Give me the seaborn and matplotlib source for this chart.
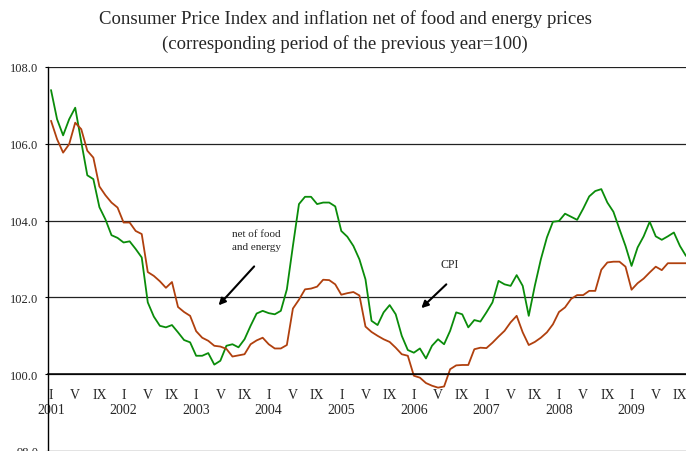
import pandas as pd
import seaborn as sns
import matplotlib.pyplot as plt

# Datos mensuales, enero 2001 - octubre 2009
cpi = [107.40, 106.64, 106.22, 106.64, 106.94, 106.05, 105.18, 105.08, 104.35, 104.03, 103.62, 103.55,
       103.43, 103.46, 103.26, 103.04, 101.87, 101.50, 101.26, 101.22, 101.28, 101.09, 100.89, 100.83,
       100.48, 100.48, 100.55, 100.25, 100.35, 100.74, 100.78, 100.70, 100.91, 101.26, 101.58, 101.65,
       101.59, 101.56, 101.65, 102.21, 103.34, 104.43, 104.62, 104.62, 104.43, 104.47, 104.47, 104.37,
       103.73, 103.58, 103.34, 102.99, 102.47, 101.39, 101.28, 101.61, 101.80, 101.56, 101.00, 100.63,
       100.56, 100.67, 100.41, 100.74, 100.91, 100.78, 101.13, 101.61, 101.56, 101.22, 101.41, 101.37,
       101.61, 101.87, 102.43, 102.34, 102.30, 102.58, 102.30, 101.52, 102.30, 102.99, 103.56, 103.97,
       103.99, 104.18, 104.10, 104.02, 104.31, 104.63, 104.77, 104.82, 104.47, 104.23, 103.78, 103.34,
       102.82, 103.30, 103.59, 103.97, 103.59, 103.50, 103.59, 103.69, 103.34, 103.08]

core = [106.60, 106.12, 105.77, 105.99, 106.55, 106.38, 105.82, 105.64, 104.89, 104.66, 104.47, 104.34,
        103.95, 103.95, 103.73, 103.65, 102.66, 102.56, 102.42, 102.25, 102.40, 101.75, 101.62, 101.52,
        101.12, 100.95, 100.87, 100.74, 100.72, 100.66, 100.46, 100.49, 100.52, 100.78, 100.88, 100.95,
        100.78, 100.67, 100.67, 100.76, 101.71, 101.94, 102.21, 102.23, 102.28, 102.46, 102.45, 102.34,
        102.07, 102.11, 102.14, 102.05, 101.24, 101.10, 101.00, 100.91, 100.84, 100.69, 100.52, 100.48,
        99.96, 99.91, 99.77, 99.70, 99.65, 99.68, 100.13, 100.23, 100.24, 100.24, 100.65, 100.69,
        100.68, 100.82, 100.98, 101.13, 101.35, 101.52, 101.09, 100.76, 100.84, 100.95, 101.09, 101.30,
        101.62, 101.74, 101.96, 102.06, 102.06, 102.17, 102.17, 102.72, 102.91, 102.93, 102.93, 102.80,
        102.20, 102.37, 102.49, 102.65, 102.80, 102.71, 102.89, 102.89, 102.89, 102.89]

roman = {1: 'I', 5: 'V', 9: 'IX'}
yticks = [98, 100, 102, 104, 106, 108]

fechas = pd.date_range('2001-01-01', periods=len(cpi), freq='MS')
df = pd.DataFrame({'pos': range(len(cpi)), 'cpi': cpi, 'core': core, 'fecha': fechas})

sns.set_style('white')
plt.rcParams['font.family'] = ['Liberation Serif', 'DejaVu Serif']

fig = plt.figure(figsize=(6.86, 4.52), dpi=100)
ax = fig.add_axes([48 / 686, 0.0, 641 / 686, 384 / 452])

sns.lineplot(data=df, x='pos', y='cpi', color='#0a8c0a', lw=1.3, ax=ax)
sns.lineplot(data=df, x='pos', y='core', color='#b0400e', lw=1.3, ax=ax)

ax.set_xlim(-0.5, len(cpi) - 0.5)
ax.set_ylim(98, 108)
ax.set_yticks(yticks)
ax.set_yticklabels([f'{v:.1f}' for v in yticks], fontsize=9)
for v in yticks:
    ax.axhline(v, color='#222222', lw=0.9, zorder=0)

# Eje X en el nivel 100
sel = df[df['fecha'].dt.month.isin(roman.keys())]
etiquetas = [roman[f.month] + ('\n' + str(f.year) if f.month == 1 else '') for f in sel['fecha']]
ax.set_xticks(sel['pos'])
ax.set_xticklabels(etiquetas, fontsize=9, linespacing=1.45)
ax.set_xticks([p - 0.5 for p in df['pos']] + [len(cpi) - 0.5], minor=True)
ax.tick_params(axis='x', which='major', length=0, pad=10)
ax.tick_params(axis='x', which='minor', length=4, direction='out', width=0.8, color='black')
ax.tick_params(axis='y', length=2, direction='out', pad=5, color='black', left=True)

ax.spines['bottom'].set_position(('data', 100))
ax.spines['bottom'].set_color('black')
ax.spines['bottom'].set_linewidth(1.1)
ax.spines['left'].set_color('black')
ax.spines['left'].set_linewidth(1.0)
ax.spines['top'].set_visible(False)
ax.spines['right'].set_visible(False)
ax.set_xlabel('')
ax.set_ylabel('')

# Anotaciones
ax.text(30.0, 103.5, 'net of food\nand energy', fontsize=8, va='center', ha='left', linespacing=1.5)
ax.annotate('', xy=(27.4, 101.74), xytext=(33.9, 102.86),
            arrowprops=dict(arrowstyle='-|>', color='black', lw=1.5, mutation_scale=10))
ax.text(65.9, 102.86, 'CPI', fontsize=8.5, va='center', ha='center')
ax.annotate('', xy=(60.9, 101.67), xytext=(65.7, 102.39),
            arrowprops=dict(arrowstyle='-|>', color='black', lw=1.5, mutation_scale=10))

fig.suptitle('Consumer Price Index and inflation net of food and energy prices\n'
             '(corresponding period of the previous year=100)',
             x=0.503, y=0.978, fontsize=13.5, va='top', linespacing=1.5)

plt.savefig('out.png', dpi=100)
